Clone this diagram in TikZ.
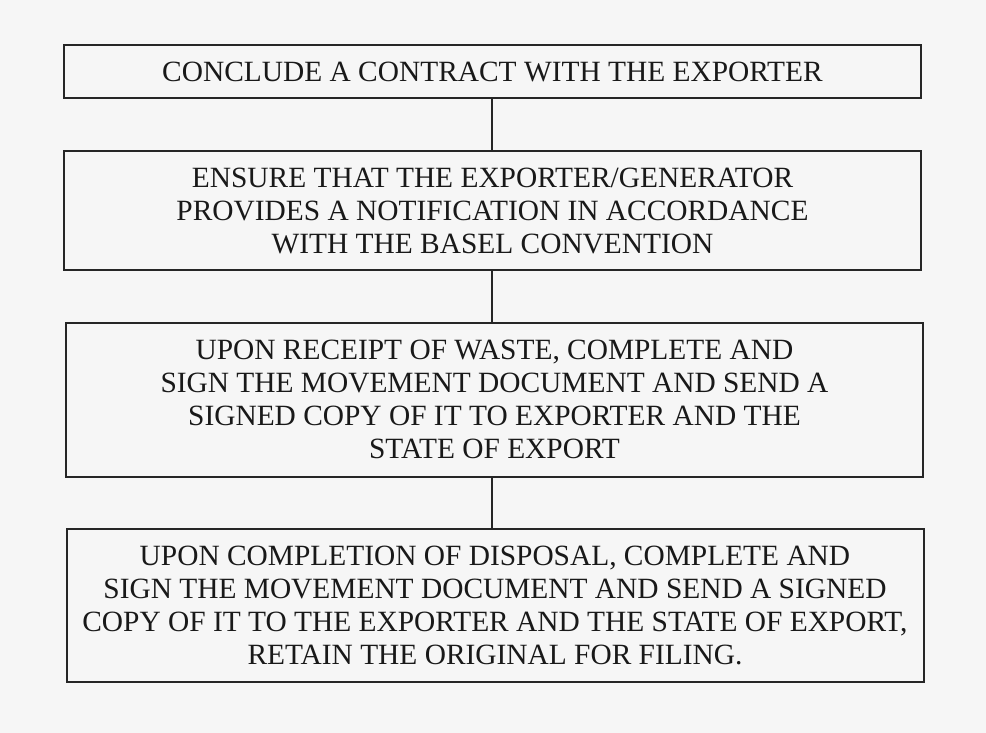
\documentclass[tikz,border=0pt]{standalone}
\usepackage{fontspec}
\setmainfont{Liberation Serif}
\begin{document}
\begin{tikzpicture}[x=1pt,y=-1pt,
  stepbox/.style={draw=black!85, line width=2pt, align=center, inner sep=0pt,
    font=\fontsize{29.4}{33}\selectfont, text=black!90},
  link/.style={draw=black!85, line width=1.8pt}]
\fill[white!94!blue!10!gray!8] (0,0) rectangle (986,733);
\useasboundingbox (0,0) rectangle (986,733);
\node[stepbox, minimum width=857pt, minimum height=53pt] (b1) at (492.5,71.5)
  {CONCLUDE A CONTRACT WITH THE EXPORTER};
\node[stepbox, minimum width=857pt, minimum height=118pt] (b2) at (492.5,210.5)
  {ENSURE THAT THE EXPORTER/GENERATOR\\PROVIDES A NOTIFICATION IN ACCORDANCE\\WITH THE BASEL CONVENTION};
\node[stepbox, minimum width=857pt, minimum height=154pt] (b3) at (494.5,399.5)
  {UPON RECEIPT OF WASTE, COMPLETE AND\\SIGN THE MOVEMENT DOCUMENT AND SEND A\\SIGNED COPY OF IT TO EXPORTER AND THE\\STATE OF EXPORT};
\node[stepbox, minimum width=857pt, minimum height=153pt] (b4) at (495,605)
  {UPON COMPLETION OF DISPOSAL, COMPLETE AND\\SIGN THE MOVEMENT DOCUMENT AND SEND A SIGNED\\COPY OF IT TO THE EXPORTER AND THE STATE OF EXPORT,\\RETAIN THE ORIGINAL FOR FILING.};
\draw[link] (b1.south -| 492,0) -- (b2.north -| 492,0);
\draw[link] (b2.south -| 492,0) -- (b3.north -| 492,0);
\draw[link] (b3.south -| 492,0) -- (b4.north -| 492,0);
\end{tikzpicture}
\end{document}
